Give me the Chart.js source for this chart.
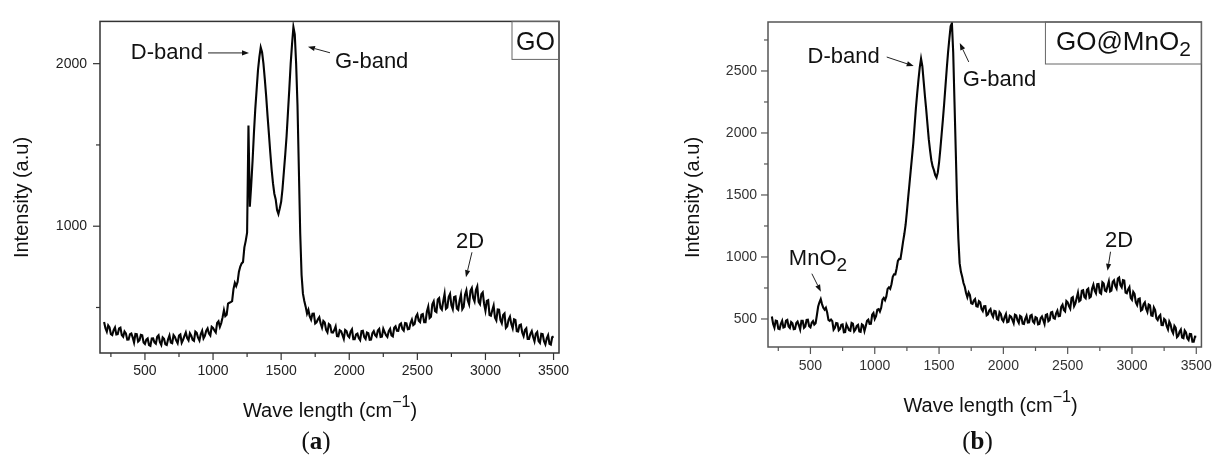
<!DOCTYPE html>
<html>
<head>
<meta charset="utf-8">
<title>Raman spectra of GO and GO@MnO2</title>
<script src="https://cdn.jsdelivr.net/npm/chart.js@4.4.1/dist/chart.umd.min.js"></script>
<style>
  body { margin: 0; background: #fff; width: 1223px; height: 463px; position: relative; overflow: hidden; }
  canvas { position: absolute; top: 0; }
  #chartGO { left: 0; }
  #chartGOMn { left: 612px; }
</style>
</head>
<body>
<canvas id="chartGO" width="612" height="463"></canvas>
<canvas id="chartGOMn" width="611" height="463"></canvas>
<script>
// Raman shift (cm-1), shared by both spectra
const waveNumbers = [
  200, 210, 220, 230, 240, 250, 260, 270, 280, 290,
  300, 310, 320, 330, 340, 350, 360, 370, 380, 390,
  400, 410, 420, 430, 440, 450, 460, 470, 480, 490,
  500, 510, 520, 530, 540, 550, 560, 570, 580, 590,
  600, 610, 620, 630, 640, 650, 660, 670, 680, 690,
  700, 710, 720, 730, 740, 750, 760, 770, 780, 790,
  800, 810, 820, 830, 840, 850, 860, 870, 880, 890,
  900, 910, 920, 930, 940, 950, 960, 970, 980, 990,
  1000, 1010, 1020, 1030, 1040, 1050, 1060, 1070, 1080, 1090,
  1100, 1110, 1120, 1130, 1140, 1150, 1160, 1170, 1180, 1190,
  1200, 1210, 1220, 1230, 1240, 1250, 1260, 1270, 1280, 1290,
  1300, 1310, 1320, 1330, 1340, 1350, 1360, 1370, 1380, 1390,
  1400, 1410, 1420, 1430, 1440, 1450, 1460, 1470, 1480, 1490,
  1500, 1510, 1520, 1530, 1540, 1550, 1560, 1570, 1580, 1590,
  1600, 1610, 1620, 1630, 1640, 1650, 1660, 1670, 1680, 1690,
  1700, 1710, 1720, 1730, 1740, 1750, 1760, 1770, 1780, 1790,
  1800, 1810, 1820, 1830, 1840, 1850, 1860, 1870, 1880, 1890,
  1900, 1910, 1920, 1930, 1940, 1950, 1960, 1970, 1980, 1990,
  2000, 2010, 2020, 2030, 2040, 2050, 2060, 2070, 2080, 2090,
  2100, 2110, 2120, 2130, 2140, 2150, 2160, 2170, 2180, 2190,
  2200, 2210, 2220, 2230, 2240, 2250, 2260, 2270, 2280, 2290,
  2300, 2310, 2320, 2330, 2340, 2350, 2360, 2370, 2380, 2390,
  2400, 2410, 2420, 2430, 2440, 2450, 2460, 2470, 2480, 2490,
  2500, 2510, 2520, 2530, 2540, 2550, 2560, 2570, 2580, 2590,
  2600, 2610, 2620, 2630, 2640, 2650, 2660, 2670, 2680, 2690,
  2700, 2710, 2720, 2730, 2740, 2750, 2760, 2770, 2780, 2790,
  2800, 2810, 2820, 2830, 2840, 2850, 2860, 2870, 2880, 2890,
  2900, 2910, 2920, 2930, 2940, 2950, 2960, 2970, 2980, 2990,
  3000, 3010, 3020, 3030, 3040, 3050, 3060, 3070, 3080, 3090,
  3100, 3110, 3120, 3130, 3140, 3150, 3160, 3170, 3180, 3190,
  3200, 3210, 3220, 3230, 3240, 3250, 3260, 3270, 3280, 3290,
  3300, 3310, 3320, 3330, 3340, 3350, 3360, 3370, 3380, 3390,
  3400, 3410, 3420, 3430, 3440, 3450, 3460, 3470, 3480, 3490,
  3500
];

// (a) GO intensity (a.u)
const goIntensity = [
  411, 372, 351, 390, 377, 336, 330, 361, 377, 334,
  336, 371, 376, 330, 320, 353, 341, 302, 303, 336,
  340, 316, 285, 337, 336, 290, 298, 332, 329, 285,
  276, 302, 309, 269, 264, 309, 310, 285, 277, 320,
  329, 287, 270, 316, 307, 273, 269, 305, 328, 285,
  281, 330, 319, 296, 280, 327, 334, 283, 301, 325,
  346, 312, 298, 341, 326, 301, 295, 352, 344, 314,
  297, 337, 357, 310, 326, 357, 371, 340, 328, 381,
  374, 359, 347, 405, 415, 381, 404, 439, 484, 447,
  455, 524, 529, 533, 539, 613, 651, 632, 656, 720,
  752, 771, 780, 870, 910, 960, 1620, 1120, 1250, 1400,
  1570, 1720, 1840, 1960, 2040, 2100, 2070, 2000, 1905, 1800,
  1680, 1570, 1455, 1350, 1265, 1200, 1165, 1100, 1075, 1110,
  1150, 1230, 1335, 1440, 1555, 1700, 1845, 2000, 2120, 2225,
  2180, 2000, 1745, 1350, 955, 700, 585, 540, 505, 462,
  485, 445, 425, 461, 462, 402, 409, 427, 440, 401,
  376, 417, 408, 362, 347, 398, 390, 347, 346, 361,
  383, 324, 323, 360, 354, 332, 307, 362, 355, 326,
  317, 352, 366, 305, 305, 334, 339, 312, 299, 354,
  356, 318, 306, 346, 342, 301, 302, 342, 355, 330,
  321, 358, 368, 318, 320, 369, 349, 330, 319, 354,
  368, 328, 322, 375, 384, 357, 356, 395, 402, 368,
  358, 404, 402, 366, 368, 404, 425, 392, 399, 444,
  459, 418, 410, 456, 460, 410, 410, 475, 505, 435,
  443, 520, 538, 478, 472, 549, 558, 498, 487, 539,
  585, 492, 500, 565, 584, 513, 490, 565, 568, 494,
  486, 544, 580, 489, 503, 579, 606, 545, 520, 603,
  620, 559, 537, 608, 630, 534, 520, 582, 593, 523,
  480, 540, 545, 453, 449, 483, 512, 437, 420, 488,
  487, 423, 403, 454, 463, 375, 385, 426, 444, 398,
  372, 428, 424, 354, 352, 391, 395, 346, 324, 362,
  372, 306, 306, 338, 355, 318, 292, 339, 349, 293,
  282, 338, 336, 292, 273, 310, 329, 277, 272, 317,
  322
];

// (b) GO@MnO2 intensity (a.u)
const goMnIntensity = [
  520, 460, 430, 487, 483, 421, 418, 461, 485, 431,
  435, 487, 493, 439, 427, 475, 465, 417, 420, 467,
  479, 449, 415, 485, 485, 429, 440, 492, 494, 441,
  432, 470, 483, 455, 465, 530, 600, 635, 660, 620,
  590, 575, 590, 552, 493, 485, 495, 482, 414, 429,
  468, 465, 408, 419, 453, 456, 393, 394, 456, 434,
  410, 405, 468, 462, 400, 415, 444, 452, 399, 396,
  457, 449, 402, 441, 485, 495, 460, 461, 534, 548,
  500, 522, 575, 580, 560, 590, 655, 670, 652, 682,
  743, 755, 743, 780, 840, 860, 860, 907, 968, 985,
  985, 1050, 1122, 1185, 1260, 1365, 1480, 1590, 1700, 1810,
  1920, 2060, 2200, 2320, 2430, 2530, 2600, 2540, 2420, 2300,
  2190, 2070, 1950, 1860, 1780, 1730, 1700, 1660, 1640, 1680,
  1760, 1870, 1990, 2110, 2240, 2380, 2520, 2650, 2760, 2860,
  2885, 2650, 2250, 1850, 1450, 1150, 950, 880, 840, 790,
  760, 710, 675, 713, 692, 626, 622, 648, 660, 603,
  600, 644, 635, 581, 564, 602, 603, 530, 538, 568,
  580, 539, 518, 565, 562, 500, 494, 555, 540, 495,
  480, 516, 540, 474, 478, 526, 519, 492, 466, 534,
  528, 489, 468, 525, 517, 462, 460, 501, 525, 471,
  473, 527, 533, 479, 467, 515, 509, 457, 460, 507,
  521, 491, 460, 532, 537, 482, 492, 552, 556, 507,
  502, 545, 567, 522, 525, 598, 615, 573, 562, 645,
  635, 604, 583, 668, 676, 603, 625, 669, 712, 643,
  652, 728, 732, 677, 667, 736, 745, 671, 680, 746,
  777, 729, 708, 781, 783, 712, 704, 796, 786, 728,
  722, 765, 803, 722, 729, 799, 812, 766, 746, 826,
  835, 772, 755, 813, 810, 713, 707, 738, 757, 671,
  655, 719, 703, 634, 613, 661, 665, 568, 576, 620,
  634, 583, 557, 617, 610, 529, 525, 593, 572, 506,
  492, 520, 532, 451, 450, 501, 490, 441, 416, 479,
  456, 408, 385, 445, 429, 354, 365, 397, 415, 350,
  345, 407, 392, 344, 330, 379, 378, 316, 316, 358,
  357
];

// tick values
const xMajorTicks = [500, 1000, 1500, 2000, 2500, 3000, 3500];
const xMinorTicks = [250, 750, 1250, 1750, 2250, 2750, 3250];
const goYMajorTicks = [1000, 2000];
const goYMinorTicks = [500, 1500];
const mnYMajorTicks = [500, 1000, 1500, 2000, 2500];
const mnYMinorTicks = [750, 1250, 1750, 2250, 2750];

const SANS = "'Liberation Sans', Arial, Helvetica, sans-serif";
const SERIF = "'Liberation Serif', 'Times New Roman', serif";

Chart.defaults.font.family = SANS;

// draws a run of text pieces (for sub/superscripts); piece = [text, size, dy, weight, family]
function drawRich(ctx, x, y, parts, align) {
  let total = 0;
  const runs = parts.map(([text, size, dy = 0, weight = 'normal', family = SANS]) => {
    const font = `${weight} ${size}px ${family}`;
    ctx.font = font;
    const w = ctx.measureText(text).width;
    total += w;
    return { text, font, w, dy };
  });
  let cx = align === 'left' ? x : align === 'right' ? x - total : x - total / 2;
  ctx.textAlign = 'left';
  ctx.textBaseline = 'alphabetic';
  runs.forEach(r => {
    ctx.font = r.font;
    ctx.fillText(r.text, cx, y + r.dy);
    cx += r.w;
  });
}

function drawArrow(ctx, x1, y1, x2, y2) {
  const ang = Math.atan2(y2 - y1, x2 - x1);
  const head = 7, half = 2.6;
  const c = Math.cos(ang), s = Math.sin(ang);
  ctx.beginPath();
  ctx.moveTo(x1, y1);
  ctx.lineTo(x2 - head * c, y2 - head * s);
  ctx.stroke();
  ctx.beginPath();
  ctx.moveTo(x2, y2);
  ctx.lineTo(x2 - head * c + half * s, y2 - head * s - half * c);
  ctx.lineTo(x2 - head * c - half * s, y2 - head * s + half * c);
  ctx.closePath();
  ctx.fill();
}

function line(ctx, x1, y1, x2, y2) {
  ctx.beginPath();
  ctx.moveTo(x1, y1);
  ctx.lineTo(x2, y2);
  ctx.stroke();
}

function spectrumChart(canvasId, cfg) {
  const canvas = document.getElementById(canvasId);
  const W = canvas.width, H = canvas.height;
  const area = cfg.area;

  // frame, Origin-style outward ticks, titles and peak labels
  const decor = {
    id: 'spectrumDecor',
    afterDraw(chart) {
      const { ctx, chartArea: a } = chart;
      const x = chart.scales.x, y = chart.scales.y;
      ctx.save();

      ctx.strokeStyle = cfg.frameColor;
      ctx.lineWidth = 1.5;
      ctx.strokeRect(a.left, a.top, a.right - a.left, a.bottom - a.top);

      ctx.lineWidth = 1.2;
      xMajorTicks.forEach(v => { const px = x.getPixelForValue(v); line(ctx, px, a.bottom, px, a.bottom + 7); });
      xMinorTicks.forEach(v => { const px = x.getPixelForValue(v); line(ctx, px, a.bottom, px, a.bottom + 4); });
      cfg.yMajor.forEach(v => { const py = y.getPixelForValue(v); line(ctx, a.left - 7, py, a.left, py); });
      cfg.yMinor.forEach(v => { const py = y.getPixelForValue(v); line(ctx, a.left - 4, py, a.left, py); });

      // sample name box in the top-right corner
      const b = cfg.box;
      ctx.strokeStyle = '#666';
      ctx.lineWidth = 1;
      ctx.strokeRect(a.right - b.width, a.top, b.width, b.height);
      ctx.fillStyle = '#111';
      drawRich(ctx, a.right - b.width / 2, a.top + b.baseline, b.parts, 'center');

      // axis titles
      ctx.fillStyle = '#111';
      ctx.save();
      ctx.translate(cfg.yTitle[0], cfg.yTitle[1]);
      ctx.rotate(-Math.PI / 2);
      ctx.font = `20px ${SANS}`;
      ctx.textAlign = 'center';
      ctx.textBaseline = 'middle';
      ctx.fillText('Intensity (a.u)', 0, 0);
      ctx.restore();
      drawRich(ctx, cfg.xTitle[0], cfg.xTitle[1],
        [['Wave length (cm', 20], ['\u22121', 16, -10], [')', 20]], 'center');

      // peak labels with arrows
      ctx.strokeStyle = '#222';
      ctx.fillStyle = '#111';
      ctx.lineWidth = 1;
      cfg.notes.forEach(n => {
        const tx = x.getPixelForValue(n.at[0]);
        const ty = y.getPixelForValue(n.at[1]);
        drawArrow(ctx, tx + n.tail[0], ty + n.tail[1], tx, ty);
        drawRich(ctx, tx + n.label[0], ty + n.label[1], n.parts, n.align);
      });

      // panel caption
      drawRich(ctx, cfg.caption[1], cfg.caption[2],
        [['(', 25, 0, 'normal', SERIF], [cfg.caption[0], 25, 0, 'bold', SERIF], [')', 25, 0, 'normal', SERIF]], 'center');

      ctx.restore();
    }
  };

  return new Chart(canvas, {
    type: 'line',
    data: {
      datasets: [{
        data: waveNumbers.map((w, i) => ({ x: w, y: cfg.intensity[i] })),
        borderColor: '#050505',
        borderWidth: 2.1,
        borderJoinStyle: 'miter',
        pointRadius: 0,
        tension: 0,
        fill: false
      }]
    },
    options: {
      responsive: false,
      animation: false,
      devicePixelRatio: 1,
      events: [],
      layout: { padding: { left: 0, top: area.top, right: W - area.right, bottom: 0 } },
      plugins: { legend: { display: false }, tooltip: { enabled: false } },
      scales: {
        x: {
          type: 'linear',
          min: 170,
          max: 3540,
          grid: { display: false, drawTicks: false },
          border: { display: false },
          afterBuildTicks: s => { s.ticks = xMajorTicks.map(v => ({ value: v })); },
          afterFit: s => { s.height = H - area.bottom; },
          ticks: {
            autoSkip: false, maxRotation: 0, padding: cfg.xTickPad,
            font: { size: 14 }, color: cfg.tickColor,
            callback: v => String(v)
          }
        },
        y: {
          type: 'linear',
          min: cfg.yMin,
          max: cfg.yMax,
          grid: { display: false, drawTicks: false },
          border: { display: false },
          afterBuildTicks: s => { s.ticks = cfg.yMajor.map(v => ({ value: v })); },
          afterFit: s => { s.width = area.left; },
          ticks: {
            autoSkip: false, padding: cfg.yTickPad,
            font: { size: 14 }, color: cfg.tickColor,
            callback: v => String(v)
          }
        }
      }
    },
    plugins: [decor]
  });
}

// (a) GO
spectrumChart('chartGO', {
  intensity: goIntensity,
  yMin: 220, yMax: 2260,
  yMajor: goYMajorTicks, yMinor: goYMinorTicks,
  area: { left: 100, right: 559, top: 16, bottom: 353 },
  xTickPad: 10, yTickPad: 13,
  tickColor: '#222', frameColor: '#333',
  yTitle: [22.5, 197.5], xTitle: [330, 417], caption: ['a', 316, 449],
  box: { parts: [['GO', 25]], width: 47, height: 38, baseline: 29 },
  notes: [
    { parts: [['D-band', 22]], at: [1264, 2066], tail: [-41, 0], label: [-46, 6.5], align: 'right' },
    { parts: [['G-band', 22]], at: [1697, 2104], tail: [22, 6], label: [27, 21.5], align: 'left' },
    { parts: [['2D', 22]], at: [2857, 686], tail: [6, -25], label: [4, -29.5], align: 'center' }
  ]
});

// (b) GO@MnO2
spectrumChart('chartGOMn', {
  intensity: goMnIntensity,
  yMin: 274, yMax: 2895,
  yMajor: mnYMajorTicks, yMinor: mnYMinorTicks,
  area: { left: 156, right: 599, top: 22, bottom: 347 },
  xTickPad: 11, yTickPad: 11,
  tickColor: '#333', frameColor: '#555',
  yTitle: [81.3, 197.5], xTitle: [378.5, 412], caption: ['b', 365.5, 449],
  box: { parts: [['GO@MnO', 26], ['2', 21, 5.5]], width: 156, height: 42, baseline: 28 },
  notes: [
    { parts: [['D-band', 22]], at: [1303, 2540], tail: [-27, -9], label: [-34, -3.5], align: 'right' },
    { parts: [['G-band', 22]], at: [1661, 2726], tail: [9, 19], label: [3, 43], align: 'left' },
    { parts: [['MnO', 22], ['2', 19, 6.7]], at: [581, 720], tail: [-9, -18], label: [-32, -27], align: 'left' },
    { parts: [['2D', 22]], at: [2810, 889], tail: [3, -19], label: [11.5, -24], align: 'center' }
  ]
});
</script>
</body>
</html>
